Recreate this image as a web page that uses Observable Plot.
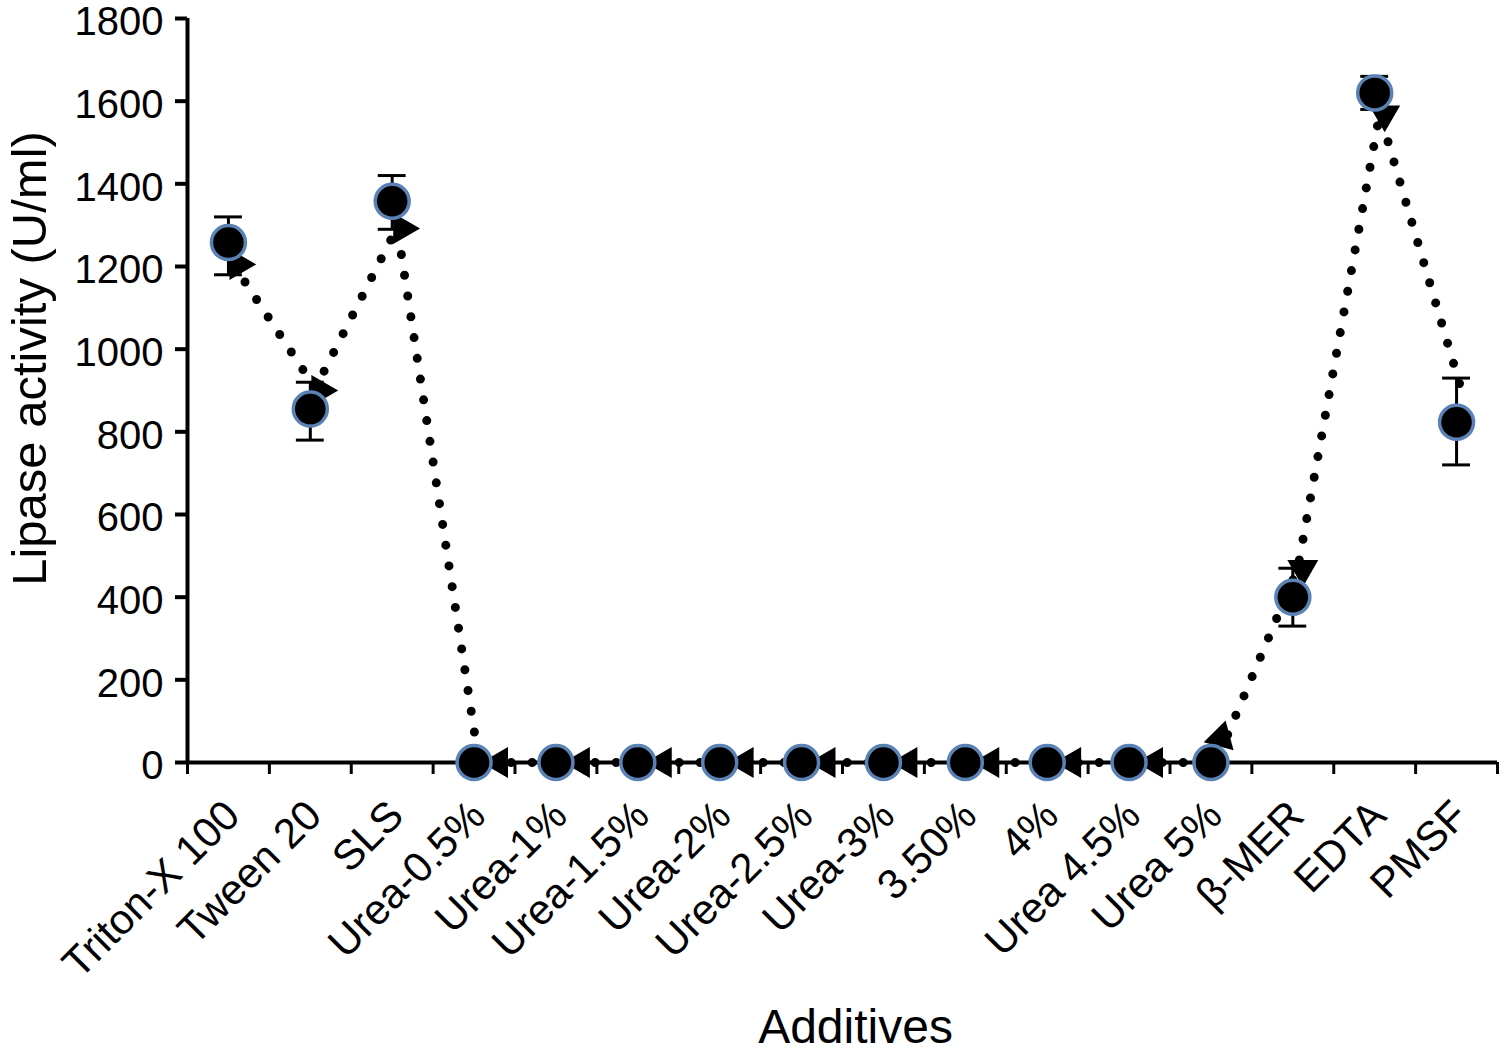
<!DOCTYPE html>
<html><head><meta charset="utf-8">
<script src="https://cdn.jsdelivr.net/npm/d3@7"></script>
<script src="https://cdn.jsdelivr.net/npm/@observablehq/plot@0.6"></script>
<style>html,body{margin:0;padding:0;background:#fff}</style>
</head><body><div id="chart"></div>
<script>
const categories = ["Triton-X 100","Tween 20","SLS","Urea-0.5%","Urea-1%","Urea-1.5%","Urea-2%","Urea-2.5%","Urea-3%","3.50%","4%","Urea 4.5%","Urea 5%","β-MER","EDTA","PMSF"];
const activity  = [1258, 855, 1358, 0, 0, 0, 0, 0, 0, 0, 0, 0, 0, 400, 1620, 823];
const errorLow  = [1180, 780, 1290, null, null, null, null, null, null, null, null, null, null, 330, 1580, 720];
const errorHigh = [1320, 920, 1420, null, null, null, null, null, null, null, null, null, null, 470, 1660, 930];
const trend     = [1205, 905, 1295, 0, 0, 0, 0, 0, 0, 0, 0, 0, 0, 470, 1570, 900];
const arrowValue = [1205, 900, 1292, 0, 0, 0, 0, 0, 0, 0, 0, 0, 60, 468, 1568, null];
const arrowDirection = ["right","right","right","left","left","left","left","left","left","left","left","left","down-right","down","down",null];
const yTicks = [0, 200, 400, 600, 800, 1000, 1200, 1400, 1600, 1800];

const angle = {right: 90, left: -90, down: 180, "down-right": 135};
const data = categories.map((c, i) => ({
  cat: c, v: activity[i], lo: errorLow[i], hi: errorHigh[i], t: trend[i],
  av: arrowValue[i], dir: arrowDirection[i]
}));
const errData = data.filter(d => d.lo != null);
const arrowsZero = data.filter(d => d.dir === "left");
const arrowsOther = data.filter(d => d.dir != null && d.dir !== "left");
const half = 1310 / categories.length / 2;
const font = "'Liberation Sans', Arial, Helvetica, sans-serif";

const chart = Plot.plot({
  width: 1501, height: 1056,
  marginLeft: 187, marginRight: 4, marginTop: 18, marginBottom: 294,
  style: {fontFamily: font, background: "white", color: "black"},
  x: {type: "band", domain: categories, padding: 0, round: false, axis: null},
  y: {domain: [0, 1800], axis: null},
  marks: [
    // axes lines
    Plot.ruleY([0], {stroke: "black", strokeWidth: 4}),
    Plot.ruleX([categories[0]], {y1: 0, y2: 1800, dx: -half, stroke: "black", strokeWidth: 4}),
    // y axis
    Plot.axisY({ticks: yTicks, tickSize: 12, strokeWidth: 4, tickFormat: () => "", label: null}),
    Plot.axisY({ticks: yTicks, tickFormat: d => String(d), tickSize: 0, tickPadding: 24, dy: 4, fontSize: 40, label: null}),
    // x boundary ticks
    Plot.axisX({tickSize: 12, dx: -half, tickFormat: () => "", strokeWidth: 3, label: null}),
    Plot.axisX({ticks: [categories[categories.length - 1]], tickSize: 12, dx: half, tickFormat: () => "", strokeWidth: 3, label: null}),
    // x labels
    Plot.axisX({tickSize: 0, tickPadding: 46, tickRotate: -45, fontSize: 42, dx: 4, label: null}),
    Plot.text(["Additives"], {frameAnchor: "bottom", dy: 265, dx: 13, fontSize: 48, textAnchor: "middle", lineAnchor: "middle"}),
    Plot.text(["Lipase activity (U/ml)"], {frameAnchor: "left", dx: -157, dy: -32, rotate: -90, fontSize: 49, textAnchor: "middle", lineAnchor: "middle"}),
    // error bars
    Plot.ruleX(errData, {x: "cat", y1: "lo", y2: "hi", stroke: "black", strokeWidth: 3}),
    Plot.tickY(errData, {x: "cat", y: "lo", insetLeft: 27, insetRight: 27, stroke: "black", strokeWidth: 3}),
    Plot.tickY(errData, {x: "cat", y: "hi", insetLeft: 27, insetRight: 27, stroke: "black", strokeWidth: 3}),
    // dotted trend line
    Plot.line(data, {x: "cat", y: "t", dx: 5, stroke: "black", strokeWidth: 9, strokeDasharray: "0 21", strokeLinecap: "round"}),
    // arrowheads
    Plot.dot(arrowsZero, {x: "cat", y: "av", dx: 25, symbol: "triangle", r: 11.5, fill: "black", rotate: d => angle[d.dir]}),
    Plot.dot(arrowsOther, {x: "cat", y: "av", dx: 10, symbol: "triangle", r: 11.5, fill: "black", rotate: d => angle[d.dir]}),
    // points
    Plot.dot(data, {x: "cat", y: "v", r: 17, fill: "black", stroke: "#5b82b5", strokeWidth: 3.5})
  ]
});
document.getElementById("chart").appendChild(chart);
</script>
</body></html>
